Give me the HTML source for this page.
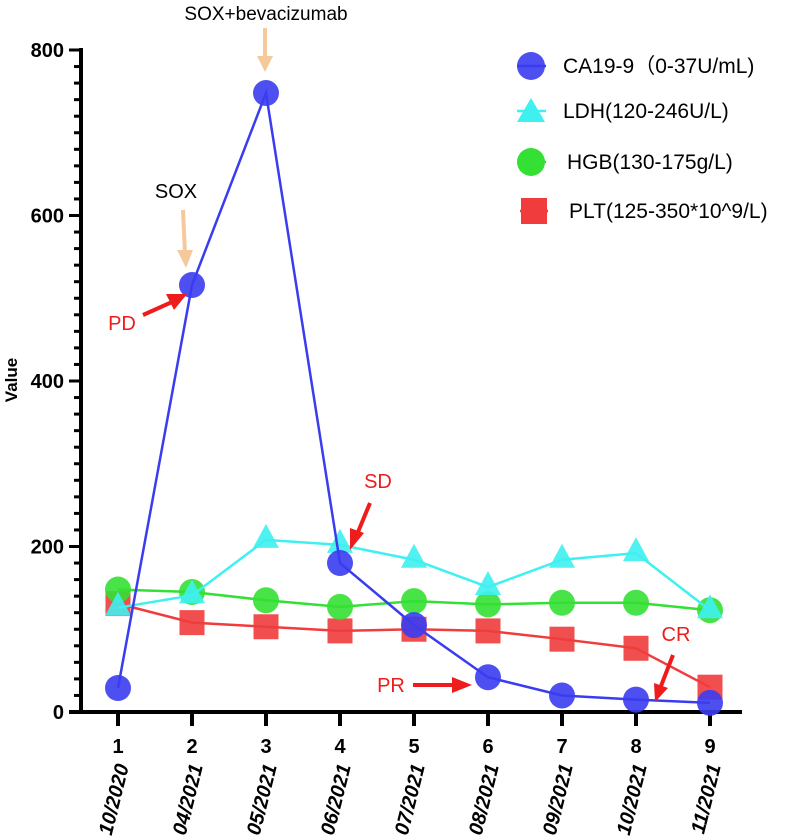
<!DOCTYPE html>
<html><head><meta charset="utf-8"><style>
html,body{margin:0;padding:0;background:#fff;}
svg{display:block;font-family:"Liberation Sans",Arial,sans-serif;}
</style></head><body>
<svg id="chart" width="787" height="837">
<g id="plot"></g>
</svg>
<script>
const categories = ["1","2","3","4","5","6","7","8","9"];
const dates = ["10/2020","04/2021","05/2021","06/2021","07/2021","08/2021","09/2021","10/2021","11/2021"];
const ca199 = [29, 516, 748, 180, 105, 42, 20, 15, 11];
const ldh = [126, 141, 208, 202, 184, 151, 184, 192, 123];
const hgb = [148, 145, 135, 127, 134, 130, 132, 132, 123];
const plt = [131, 108, 103, 98, 100, 98, 88, 77, 30];
const yTicks = [0, 200, 400, 600, 800];

const NS = "http://www.w3.org/2000/svg";
const g = document.getElementById('plot');
function xS(i){ return 118 + i * 74; }
function yS(v){ return 712 - v * 0.8275; }
function el(tag, attrs, parent){
  const e = document.createElementNS(NS, tag);
  for (const k in attrs) e.setAttribute(k, attrs[k]);
  (parent || g).appendChild(e);
  return e;
}
let a = el('line', {x1:81, y1:48, x2:81, y2:714, stroke:'#000','stroke-width':4});


a = el('line', {x1:69, y1:712, x2:742, y2:712, stroke:'#000','stroke-width':4});


for (let k = 0; k < yTicks.length; k++) {
  const yy0 = yS(yTicks[k]);
  el('line', {x1:69, y1:yy0, x2:81, y2:yy0, stroke:'#000','stroke-width':3});
  const t = el('text', {x:64, y:yy0+7, 'text-anchor':'end','font-size':20,'font-weight':'bold'});
  t.textContent = yTicks[k];
  
  
  if (k < yTicks.length - 1) {
    for (let m = 1; m < 10; m++) {
      const yy = yS(yTicks[k] + (yTicks[k+1] - yTicks[k]) * m / 10);
      el('line', {x1:74, y1:yy, x2:81, y2:yy, stroke:'#000','stroke-width':3});
    }
  }
}
let yt = el('text', {x:0, y:0, transform:'translate(17,380) rotate(-90)', 'text-anchor':'middle','font-size':17,'font-weight':'bold'});
yt.textContent = 'Value';


for (let i = 0; i < categories.length; i++) {
  el('line', {x1:xS(i), y1:712, x2:xS(i), y2:726, stroke:'#000','stroke-width':4});
  const t = el('text', {x:xS(i), y:753, 'text-anchor':'middle','font-size':20,'font-weight':'bold'});
  t.textContent = categories[i];
  
  
  const d = el('text', {x:0, y:0, transform:'translate('+(xS(i)+11)+',766) rotate(-76)', 'text-anchor':'end','font-size':20,'font-weight':'bold','font-style':'italic'});
  d.textContent = dates[i];
  
  
}
function series(vals, color, shape, name){
  const pts = vals.map((v,i)=>xS(i)+','+yS(v)).join(' ');
  const l = el('polyline', {points:pts, fill:'none', stroke:color, 'stroke-width':2.5});
  
  
  vals.forEach((v,i)=>{
    const x = xS(i), y = yS(v);
    let m;
    if (shape==='circle') m = el('circle', {cx:x, cy:y, r:13, fill:color, 'fill-opacity':0.9});
    else if (shape==='tri') m = el('polygon', {points:(x)+','+(y-16)+' '+(x-13)+','+(y+8)+' '+(x+13)+','+(y+8), fill:color, 'fill-opacity':0.9});
    else m = el('rect', {x:x-12.5, y:y-12.5, width:25, height:25, fill:color, 'fill-opacity':0.9});
    
    
  });
}
series(plt, '#f03c3c', 'rect', 'plt');
series(hgb, '#33e033', 'circle', 'hgb');
series(ldh, '#3ef0f0', 'tri', 'ldh');
series(ca199, '#3a3cf0', 'circle', 'ca199');
</script>
<svg width="787" height="837" style="position:absolute;left:0;top:0">
<g font-family="Liberation Sans, Arial, sans-serif">
<text x="266" y="20" text-anchor="middle" font-size="19">SOX+bevacizumab</text>
<g><line x1="265" y1="28" x2="265" y2="58" stroke="#f5c99a" stroke-width="4"/><polygon points="257,56 273,56 265,72" fill="#f5c99a"/></g>
<text x="176" y="198" text-anchor="middle" font-size="20">SOX</text>
<g><line x1="183" y1="210" x2="185" y2="254" stroke="#f5c99a" stroke-width="4"/><polygon points="177,250 193,250 186,268" fill="#f5c99a"/></g>
<text x="122" y="330" text-anchor="middle" font-size="20" fill="#ee1c1c">PD</text>
<g><line x1="143" y1="315" x2="172" y2="302" stroke="#ee1c1c" stroke-width="4"/><polygon points="166,294 174,310 187,294" fill="#ee1c1c"/></g>
<text x="378" y="488" text-anchor="middle" font-size="20" fill="#ee1c1c">SD</text>
<g><line x1="370" y1="503" x2="358" y2="532" stroke="#ee1c1c" stroke-width="4"/><polygon points="350,528 364,533 350,550" fill="#ee1c1c"/></g>
<text x="391" y="692" text-anchor="middle" font-size="20" fill="#ee1c1c">PR</text>
<g><line x1="413" y1="685" x2="455" y2="685" stroke="#ee1c1c" stroke-width="4"/><polygon points="452,677 452,693 472,685" fill="#ee1c1c"/></g>
<text x="676" y="641" text-anchor="middle" font-size="20" fill="#ee1c1c">CR</text>
<g><line x1="673" y1="655" x2="661" y2="686" stroke="#ee1c1c" stroke-width="4"/><polygon points="654,683 668,688 655,702" fill="#ee1c1c"/></g>
<g font-size="21">
<line x1="517" y1="66" x2="546" y2="66" stroke="#3a3cf0" stroke-width="2.5"/>
<circle cx="531" cy="66" r="14" fill="#3a3cf0" fill-opacity="0.9"/>
<text x="563" y="73">CA19-9（0-37U/mL)</text>
<line x1="517" y1="111" x2="546" y2="111" stroke="#3ef0f0" stroke-width="2.5"/>
<polygon points="531,98 517,122 545,122" fill="#3ef0f0"/>
<text x="563" y="118">LDH(120-246U/L)</text>
<line x1="517" y1="162" x2="546" y2="162" stroke="#33e033" stroke-width="2.5"/>
<circle cx="531" cy="162" r="14" fill="#33e033"/>
<text x="567" y="169">HGB(130-175g/L)</text>
<line x1="520" y1="211" x2="548" y2="211" stroke="#f03c3c" stroke-width="2.5"/>
<rect x="521" y="198" width="26" height="26" fill="#f03c3c"/>
<text x="569" y="218">PLT(125-350*10^9/L)</text>
</g>
</g>
</svg>
</body></html>
